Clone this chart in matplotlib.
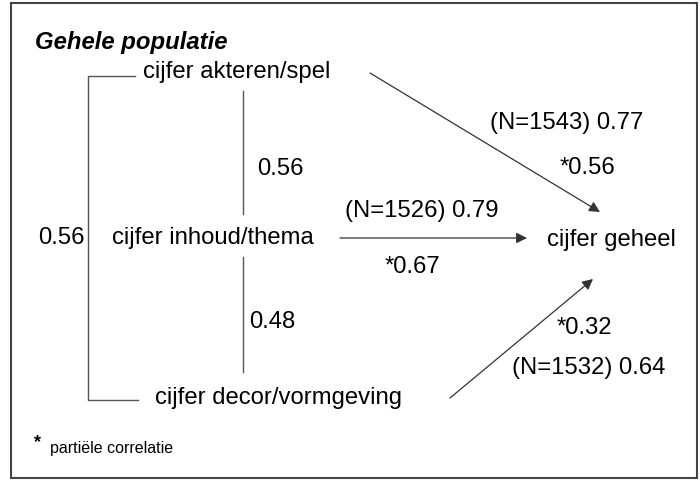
import matplotlib
matplotlib.use("Agg")
import matplotlib.pyplot as plt
from matplotlib.patches import Rectangle

# data
title = "Gehele populatie"
predictors = ["cijfer akteren/spel", "cijfer inhoud/thema", "cijfer decor/vormgeving"]
outcome = "cijfer geheel"
n_values = [1543, 1526, 1532]
corr_outcome = [0.77, 0.79, 0.64]
partial_corr = [0.56, 0.67, 0.32]
# correlations between predictors: akteren-inhoud, inhoud-decor, akteren-decor
corr_between = [0.56, 0.48, 0.56]
footnote = "partiële correlatie"

plt.rcParams['font.family'] = ['Liberation Sans', 'DejaVu Sans']
fs = 17.2
lc = '#555555'

fig = plt.figure(figsize=(7, 4.8), dpi=100)
ax = fig.add_axes([0, 0, 1, 1])
ax.set_xlim(0, 700)
ax.set_ylim(480, 0)
ax.axis('off')

# frame
ax.add_patch(Rectangle((11, 3), 686, 475, fill=False, edgecolor='#444444', lw=1.5))

ax.text(35, 42, title, fontsize=fs, fontweight='bold', fontstyle='italic', va='center', ha='left')

# node labels
ax.text(143, 72, predictors[0], fontsize=fs, va='center', ha='left')
ax.text(112, 238, predictors[1], fontsize=fs, va='center', ha='left')
ax.text(155, 398, predictors[2], fontsize=fs, va='center', ha='left')
ax.text(547, 240, outcome, fontsize=fs, va='center', ha='left')

# bracket between akteren and decor
ax.plot([135, 88, 88, 138], [76, 76, 400, 400], color=lc, lw=1)
ax.text(85, 238, f"{corr_between[2]:.2f}", fontsize=fs, va='center', ha='right')

# vertical lines between predictors
ax.plot([243, 243], [91, 214], color=lc, lw=1)
ax.text(257, 169, f"{corr_between[0]:.2f}", fontsize=fs, va='center', ha='left')
ax.plot([243, 243], [257, 372], color=lc, lw=1)
ax.text(249, 322, f"{corr_between[1]:.2f}", fontsize=fs, va='center', ha='left')

# arrows to outcome
arrow = dict(arrowstyle='-|>', color='#333333', lw=0.9, mutation_scale=16,
             shrinkA=0, shrinkB=0)
ax.annotate('', xy=(600, 212), xytext=(370, 73), arrowprops=arrow)
ax.annotate('', xy=(527, 238), xytext=(340, 238), arrowprops=arrow)
ax.annotate('', xy=(593, 279), xytext=(450, 398), arrowprops=arrow)

# arrow labels
ax.text(490, 123, f"(N={n_values[0]}) {corr_outcome[0]:.2f}", fontsize=fs, va='center', ha='left')
ax.text(560, 168, f"*{partial_corr[0]:.2f}", fontsize=fs, va='center', ha='left')
ax.text(345, 211, f"(N={n_values[1]}) {corr_outcome[1]:.2f}", fontsize=fs, va='center', ha='left')
ax.text(385, 267, f"*{partial_corr[1]:.2f}", fontsize=fs, va='center', ha='left')
ax.text(557, 328, f"*{partial_corr[2]:.2f}", fontsize=fs, va='center', ha='left')
ax.text(512, 368, f"(N={n_values[2]}) {corr_outcome[2]:.2f}", fontsize=fs, va='center', ha='left')

# footnote
ax.text(38, 443, "*", fontsize=13, fontweight='bold', va='center', ha='center')
ax.text(50, 448, footnote, fontsize=11.5, va='center', ha='left')

fig.savefig('out.png', dpi=100)
